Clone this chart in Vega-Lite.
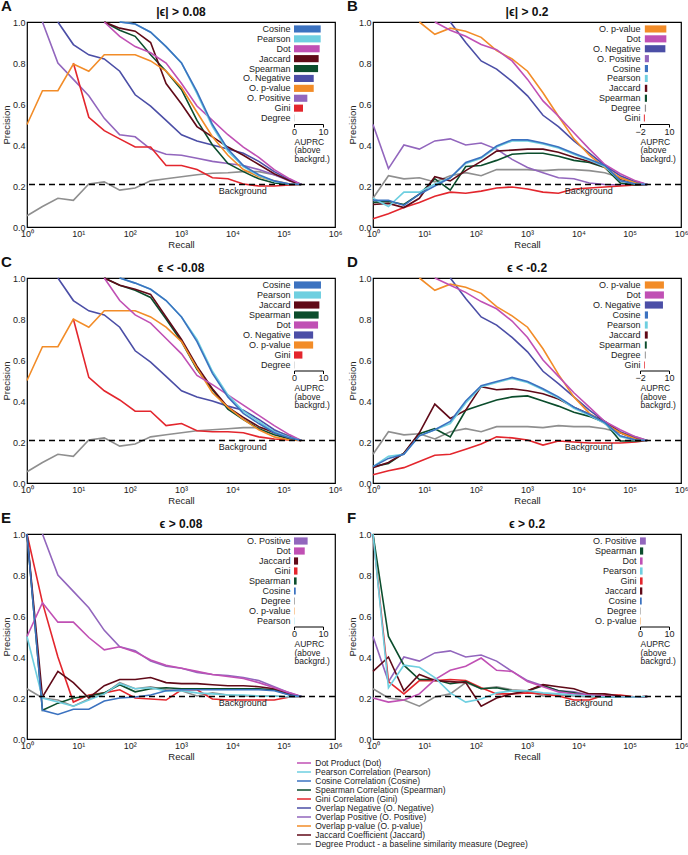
{
"$schema":"https://vega.github.io/schema/vega-lite/v6.json",
"padding":{"left":0,"top":-2,"right":0,"bottom":0},
"background":"white",
"config":{"font":"Liberation Sans","view":{"stroke":"black","strokeWidth":1.2},
"axis":{"labelFont":"Liberation Sans","titleFont":"Liberation Sans","labelFontSize":9,"titleFontSize":9.5,"titleFontWeight":"normal","labelColor":"#222","titleColor":"#222","tickColor":"black","domainColor":"black","grid":false},
"title":{"font":"Liberation Sans","color":"#111"}},
"datasets":{
"lines":[
{"p":"A","s":"Degree","r":1,"v":0.055},{"p":"A","s":"Degree","r":2,"v":0.1},{"p":"A","s":"Degree","r":4,"v":0.14},{"p":"A","s":"Degree","r":8,"v":0.13},{"p":"A","s":"Degree","r":16,"v":0.21},{"p":"A","s":"Degree","r":32,"v":0.22},{"p":"A","s":"Degree","r":64,"v":0.18},{"p":"A","s":"Degree","r":128,"v":0.19},{"p":"A","s":"Degree","r":256,"v":0.225},{"p":"A","s":"Degree","r":512,"v":0.235},{"p":"A","s":"Degree","r":1024,"v":0.245},{"p":"A","s":"Degree","r":2048,"v":0.255},{"p":"A","s":"Degree","r":4096,"v":0.262},{"p":"A","s":"Degree","r":8192,"v":0.265},{"p":"A","s":"Degree","r":16384,"v":0.27},{"p":"A","s":"Degree","r":32768,"v":0.27},{"p":"A","s":"Degree","r":65536,"v":0.255},{"p":"A","s":"Degree","r":131072,"v":0.23},{"p":"A","s":"Degree","r":220000,"v":0.207},
{"p":"A","s":"O. Positive","r":2,"v":1},{"p":"A","s":"O. Positive","r":4,"v":0.8},{"p":"A","s":"O. Positive","r":8,"v":0.72},{"p":"A","s":"O. Positive","r":16,"v":0.64},{"p":"A","s":"O. Positive","r":32,"v":0.53},{"p":"A","s":"O. Positive","r":64,"v":0.45},{"p":"A","s":"O. Positive","r":128,"v":0.44},{"p":"A","s":"O. Positive","r":256,"v":0.38},{"p":"A","s":"O. Positive","r":512,"v":0.355},{"p":"A","s":"O. Positive","r":1024,"v":0.35},{"p":"A","s":"O. Positive","r":2048,"v":0.335},{"p":"A","s":"O. Positive","r":4096,"v":0.32},{"p":"A","s":"O. Positive","r":8192,"v":0.31},{"p":"A","s":"O. Positive","r":16384,"v":0.3},{"p":"A","s":"O. Positive","r":32768,"v":0.28},{"p":"A","s":"O. Positive","r":65536,"v":0.255},{"p":"A","s":"O. Positive","r":131072,"v":0.225},{"p":"A","s":"O. Positive","r":220000,"v":0.207},
{"p":"A","s":"Gini","r":8,"v":0.8},{"p":"A","s":"Gini","r":16,"v":0.535},{"p":"A","s":"Gini","r":32,"v":0.47},{"p":"A","s":"Gini","r":64,"v":0.43},{"p":"A","s":"Gini","r":128,"v":0.39},{"p":"A","s":"Gini","r":256,"v":0.39},{"p":"A","s":"Gini","r":512,"v":0.3},{"p":"A","s":"Gini","r":1024,"v":0.3},{"p":"A","s":"Gini","r":2048,"v":0.28},{"p":"A","s":"Gini","r":4096,"v":0.24},{"p":"A","s":"Gini","r":8192,"v":0.235},{"p":"A","s":"Gini","r":16384,"v":0.21},{"p":"A","s":"Gini","r":32768,"v":0.2},{"p":"A","s":"Gini","r":65536,"v":0.2},{"p":"A","s":"Gini","r":131072,"v":0.205},{"p":"A","s":"Gini","r":220000,"v":0.207},
{"p":"A","s":"O. Negative","r":4,"v":1},{"p":"A","s":"O. Negative","r":8,"v":0.89},{"p":"A","s":"O. Negative","r":16,"v":0.84},{"p":"A","s":"O. Negative","r":32,"v":0.82},{"p":"A","s":"O. Negative","r":64,"v":0.76},{"p":"A","s":"O. Negative","r":128,"v":0.645},{"p":"A","s":"O. Negative","r":256,"v":0.59},{"p":"A","s":"O. Negative","r":512,"v":0.52},{"p":"A","s":"O. Negative","r":1024,"v":0.45},{"p":"A","s":"O. Negative","r":2048,"v":0.42},{"p":"A","s":"O. Negative","r":4096,"v":0.4},{"p":"A","s":"O. Negative","r":8192,"v":0.38},{"p":"A","s":"O. Negative","r":16384,"v":0.36},{"p":"A","s":"O. Negative","r":32768,"v":0.32},{"p":"A","s":"O. Negative","r":65536,"v":0.27},{"p":"A","s":"O. Negative","r":131072,"v":0.23},{"p":"A","s":"O. Negative","r":220000,"v":0.207},
{"p":"A","s":"Spearman","r":32,"v":1},{"p":"A","s":"Spearman","r":64,"v":0.96},{"p":"A","s":"Spearman","r":128,"v":0.93},{"p":"A","s":"Spearman","r":256,"v":0.84},{"p":"A","s":"Spearman","r":512,"v":0.76},{"p":"A","s":"Spearman","r":1024,"v":0.67},{"p":"A","s":"Spearman","r":2048,"v":0.52},{"p":"A","s":"Spearman","r":4096,"v":0.4},{"p":"A","s":"Spearman","r":8192,"v":0.31},{"p":"A","s":"Spearman","r":16384,"v":0.27},{"p":"A","s":"Spearman","r":32768,"v":0.235},{"p":"A","s":"Spearman","r":65536,"v":0.215},{"p":"A","s":"Spearman","r":131072,"v":0.207},{"p":"A","s":"Spearman","r":220000,"v":0.207},
{"p":"A","s":"Jaccard","r":32,"v":1},{"p":"A","s":"Jaccard","r":64,"v":0.97},{"p":"A","s":"Jaccard","r":128,"v":0.955},{"p":"A","s":"Jaccard","r":256,"v":0.9},{"p":"A","s":"Jaccard","r":512,"v":0.7},{"p":"A","s":"Jaccard","r":1024,"v":0.6},{"p":"A","s":"Jaccard","r":2048,"v":0.49},{"p":"A","s":"Jaccard","r":4096,"v":0.44},{"p":"A","s":"Jaccard","r":8192,"v":0.39},{"p":"A","s":"Jaccard","r":16384,"v":0.35},{"p":"A","s":"Jaccard","r":32768,"v":0.305},{"p":"A","s":"Jaccard","r":65536,"v":0.26},{"p":"A","s":"Jaccard","r":131072,"v":0.225},{"p":"A","s":"Jaccard","r":220000,"v":0.207},
{"p":"A","s":"O. p-value","r":1,"v":0.5},{"p":"A","s":"O. p-value","r":2,"v":0.665},{"p":"A","s":"O. p-value","r":4,"v":0.665},{"p":"A","s":"O. p-value","r":8,"v":0.795},{"p":"A","s":"O. p-value","r":16,"v":0.76},{"p":"A","s":"O. p-value","r":32,"v":0.84},{"p":"A","s":"O. p-value","r":64,"v":0.84},{"p":"A","s":"O. p-value","r":128,"v":0.84},{"p":"A","s":"O. p-value","r":256,"v":0.81},{"p":"A","s":"O. p-value","r":512,"v":0.76},{"p":"A","s":"O. p-value","r":1024,"v":0.68},{"p":"A","s":"O. p-value","r":2048,"v":0.56},{"p":"A","s":"O. p-value","r":4096,"v":0.44},{"p":"A","s":"O. p-value","r":8192,"v":0.35},{"p":"A","s":"O. p-value","r":16384,"v":0.28},{"p":"A","s":"O. p-value","r":32768,"v":0.245},{"p":"A","s":"O. p-value","r":65536,"v":0.225},{"p":"A","s":"O. p-value","r":131072,"v":0.21},{"p":"A","s":"O. p-value","r":220000,"v":0.207},
{"p":"A","s":"Dot","r":32,"v":1},{"p":"A","s":"Dot","r":64,"v":0.93},{"p":"A","s":"Dot","r":128,"v":0.88},{"p":"A","s":"Dot","r":256,"v":0.85},{"p":"A","s":"Dot","r":512,"v":0.8},{"p":"A","s":"Dot","r":1024,"v":0.7},{"p":"A","s":"Dot","r":2048,"v":0.59},{"p":"A","s":"Dot","r":4096,"v":0.52},{"p":"A","s":"Dot","r":8192,"v":0.45},{"p":"A","s":"Dot","r":16384,"v":0.39},{"p":"A","s":"Dot","r":32768,"v":0.34},{"p":"A","s":"Dot","r":65536,"v":0.28},{"p":"A","s":"Dot","r":131072,"v":0.235},{"p":"A","s":"Dot","r":220000,"v":0.207},
{"p":"A","s":"Pearson","r":64,"v":1},{"p":"A","s":"Pearson","r":128,"v":0.99},{"p":"A","s":"Pearson","r":256,"v":0.95},{"p":"A","s":"Pearson","r":512,"v":0.88},{"p":"A","s":"Pearson","r":1024,"v":0.8},{"p":"A","s":"Pearson","r":2048,"v":0.65},{"p":"A","s":"Pearson","r":4096,"v":0.49},{"p":"A","s":"Pearson","r":8192,"v":0.37},{"p":"A","s":"Pearson","r":16384,"v":0.295},{"p":"A","s":"Pearson","r":32768,"v":0.25},{"p":"A","s":"Pearson","r":65536,"v":0.222},{"p":"A","s":"Pearson","r":131072,"v":0.21},{"p":"A","s":"Pearson","r":220000,"v":0.207},
{"p":"A","s":"Cosine","r":64,"v":1},{"p":"A","s":"Cosine","r":128,"v":0.99},{"p":"A","s":"Cosine","r":256,"v":0.95},{"p":"A","s":"Cosine","r":512,"v":0.88},{"p":"A","s":"Cosine","r":1024,"v":0.8},{"p":"A","s":"Cosine","r":2048,"v":0.66},{"p":"A","s":"Cosine","r":4096,"v":0.5},{"p":"A","s":"Cosine","r":8192,"v":0.38},{"p":"A","s":"Cosine","r":16384,"v":0.3},{"p":"A","s":"Cosine","r":32768,"v":0.255},{"p":"A","s":"Cosine","r":65536,"v":0.225},{"p":"A","s":"Cosine","r":131072,"v":0.21},{"p":"A","s":"Cosine","r":220000,"v":0.207},

{"p":"B","s":"Degree","r":1,"v":0.14},{"p":"B","s":"Degree","r":2,"v":0.25},{"p":"B","s":"Degree","r":4,"v":0.235},{"p":"B","s":"Degree","r":8,"v":0.24},{"p":"B","s":"Degree","r":16,"v":0.22},{"p":"B","s":"Degree","r":32,"v":0.25},{"p":"B","s":"Degree","r":64,"v":0.265},{"p":"B","s":"Degree","r":128,"v":0.25},{"p":"B","s":"Degree","r":256,"v":0.28},{"p":"B","s":"Degree","r":512,"v":0.28},{"p":"B","s":"Degree","r":1024,"v":0.28},{"p":"B","s":"Degree","r":2048,"v":0.275},{"p":"B","s":"Degree","r":4096,"v":0.28},{"p":"B","s":"Degree","r":8192,"v":0.28},{"p":"B","s":"Degree","r":16384,"v":0.275},{"p":"B","s":"Degree","r":32768,"v":0.265},{"p":"B","s":"Degree","r":65536,"v":0.24},{"p":"B","s":"Degree","r":131072,"v":0.22},{"p":"B","s":"Degree","r":220000,"v":0.207},
{"p":"B","s":"O. Positive","r":1,"v":0.5},{"p":"B","s":"O. Positive","r":2,"v":0.285},{"p":"B","s":"O. Positive","r":4,"v":0.4},{"p":"B","s":"O. Positive","r":8,"v":0.38},{"p":"B","s":"O. Positive","r":16,"v":0.42},{"p":"B","s":"O. Positive","r":32,"v":0.43},{"p":"B","s":"O. Positive","r":64,"v":0.4},{"p":"B","s":"O. Positive","r":128,"v":0.41},{"p":"B","s":"O. Positive","r":256,"v":0.38},{"p":"B","s":"O. Positive","r":512,"v":0.33},{"p":"B","s":"O. Positive","r":1024,"v":0.29},{"p":"B","s":"O. Positive","r":2048,"v":0.265},{"p":"B","s":"O. Positive","r":4096,"v":0.24},{"p":"B","s":"O. Positive","r":8192,"v":0.235},{"p":"B","s":"O. Positive","r":16384,"v":0.215},{"p":"B","s":"O. Positive","r":32768,"v":0.207},{"p":"B","s":"O. Positive","r":65536,"v":0.205},{"p":"B","s":"O. Positive","r":131072,"v":0.205},{"p":"B","s":"O. Positive","r":220000,"v":0.207},
{"p":"B","s":"Gini","r":1,"v":0.04},{"p":"B","s":"Gini","r":2,"v":0.065},{"p":"B","s":"Gini","r":4,"v":0.095},{"p":"B","s":"Gini","r":8,"v":0.12},{"p":"B","s":"Gini","r":16,"v":0.15},{"p":"B","s":"Gini","r":32,"v":0.17},{"p":"B","s":"Gini","r":64,"v":0.165},{"p":"B","s":"Gini","r":128,"v":0.175},{"p":"B","s":"Gini","r":256,"v":0.19},{"p":"B","s":"Gini","r":512,"v":0.195},{"p":"B","s":"Gini","r":1024,"v":0.185},{"p":"B","s":"Gini","r":2048,"v":0.17},{"p":"B","s":"Gini","r":4096,"v":0.165},{"p":"B","s":"Gini","r":8192,"v":0.185},{"p":"B","s":"Gini","r":16384,"v":0.19},{"p":"B","s":"Gini","r":32768,"v":0.195},{"p":"B","s":"Gini","r":65536,"v":0.2},{"p":"B","s":"Gini","r":131072,"v":0.205},{"p":"B","s":"Gini","r":220000,"v":0.207},
{"p":"B","s":"O. Negative","r":32,"v":1},{"p":"B","s":"O. Negative","r":64,"v":0.9},{"p":"B","s":"O. Negative","r":128,"v":0.81},{"p":"B","s":"O. Negative","r":256,"v":0.77},{"p":"B","s":"O. Negative","r":512,"v":0.71},{"p":"B","s":"O. Negative","r":1024,"v":0.64},{"p":"B","s":"O. Negative","r":2048,"v":0.545},{"p":"B","s":"O. Negative","r":4096,"v":0.49},{"p":"B","s":"O. Negative","r":8192,"v":0.42},{"p":"B","s":"O. Negative","r":16384,"v":0.36},{"p":"B","s":"O. Negative","r":32768,"v":0.3},{"p":"B","s":"O. Negative","r":65536,"v":0.25},{"p":"B","s":"O. Negative","r":131072,"v":0.22},{"p":"B","s":"O. Negative","r":220000,"v":0.207},
{"p":"B","s":"Spearman","r":1,"v":0.12},{"p":"B","s":"Spearman","r":2,"v":0.125},{"p":"B","s":"Spearman","r":4,"v":0.11},{"p":"B","s":"Spearman","r":8,"v":0.16},{"p":"B","s":"Spearman","r":16,"v":0.235},{"p":"B","s":"Spearman","r":32,"v":0.18},{"p":"B","s":"Spearman","r":64,"v":0.295},{"p":"B","s":"Spearman","r":128,"v":0.3},{"p":"B","s":"Spearman","r":256,"v":0.325},{"p":"B","s":"Spearman","r":512,"v":0.355},{"p":"B","s":"Spearman","r":1024,"v":0.36},{"p":"B","s":"Spearman","r":2048,"v":0.36},{"p":"B","s":"Spearman","r":4096,"v":0.345},{"p":"B","s":"Spearman","r":8192,"v":0.325},{"p":"B","s":"Spearman","r":16384,"v":0.315},{"p":"B","s":"Spearman","r":32768,"v":0.29},{"p":"B","s":"Spearman","r":65536,"v":0.215},{"p":"B","s":"Spearman","r":131072,"v":0.205},{"p":"B","s":"Spearman","r":220000,"v":0.207},
{"p":"B","s":"Jaccard","r":1,"v":0.11},{"p":"B","s":"Jaccard","r":2,"v":0.115},{"p":"B","s":"Jaccard","r":4,"v":0.095},{"p":"B","s":"Jaccard","r":8,"v":0.14},{"p":"B","s":"Jaccard","r":16,"v":0.245},{"p":"B","s":"Jaccard","r":32,"v":0.225},{"p":"B","s":"Jaccard","r":64,"v":0.275},{"p":"B","s":"Jaccard","r":128,"v":0.32},{"p":"B","s":"Jaccard","r":256,"v":0.37},{"p":"B","s":"Jaccard","r":512,"v":0.375},{"p":"B","s":"Jaccard","r":1024,"v":0.38},{"p":"B","s":"Jaccard","r":2048,"v":0.38},{"p":"B","s":"Jaccard","r":4096,"v":0.365},{"p":"B","s":"Jaccard","r":8192,"v":0.34},{"p":"B","s":"Jaccard","r":16384,"v":0.32},{"p":"B","s":"Jaccard","r":32768,"v":0.295},{"p":"B","s":"Jaccard","r":65536,"v":0.23},{"p":"B","s":"Jaccard","r":131072,"v":0.21},{"p":"B","s":"Jaccard","r":220000,"v":0.207},
{"p":"B","s":"O. p-value","r":8,"v":1},{"p":"B","s":"O. p-value","r":16,"v":0.94},{"p":"B","s":"O. p-value","r":32,"v":0.97},{"p":"B","s":"O. p-value","r":64,"v":0.955},{"p":"B","s":"O. p-value","r":128,"v":0.925},{"p":"B","s":"O. p-value","r":256,"v":0.86},{"p":"B","s":"O. p-value","r":512,"v":0.82},{"p":"B","s":"O. p-value","r":1024,"v":0.76},{"p":"B","s":"O. p-value","r":2048,"v":0.655},{"p":"B","s":"O. p-value","r":4096,"v":0.54},{"p":"B","s":"O. p-value","r":8192,"v":0.43},{"p":"B","s":"O. p-value","r":16384,"v":0.35},{"p":"B","s":"O. p-value","r":32768,"v":0.29},{"p":"B","s":"O. p-value","r":65536,"v":0.24},{"p":"B","s":"O. p-value","r":131072,"v":0.215},{"p":"B","s":"O. p-value","r":220000,"v":0.207},
{"p":"B","s":"Dot","r":16,"v":1},{"p":"B","s":"Dot","r":32,"v":0.96},{"p":"B","s":"Dot","r":64,"v":0.93},{"p":"B","s":"Dot","r":128,"v":0.89},{"p":"B","s":"Dot","r":256,"v":0.865},{"p":"B","s":"Dot","r":512,"v":0.81},{"p":"B","s":"Dot","r":1024,"v":0.72},{"p":"B","s":"Dot","r":2048,"v":0.615},{"p":"B","s":"Dot","r":4096,"v":0.54},{"p":"B","s":"Dot","r":8192,"v":0.46},{"p":"B","s":"Dot","r":16384,"v":0.38},{"p":"B","s":"Dot","r":32768,"v":0.305},{"p":"B","s":"Dot","r":65536,"v":0.26},{"p":"B","s":"Dot","r":131072,"v":0.225},{"p":"B","s":"Dot","r":220000,"v":0.207},
{"p":"B","s":"Pearson","r":1,"v":0.14},{"p":"B","s":"Pearson","r":2,"v":0.1},{"p":"B","s":"Pearson","r":4,"v":0.17},{"p":"B","s":"Pearson","r":8,"v":0.17},{"p":"B","s":"Pearson","r":16,"v":0.21},{"p":"B","s":"Pearson","r":32,"v":0.24},{"p":"B","s":"Pearson","r":64,"v":0.31},{"p":"B","s":"Pearson","r":128,"v":0.335},{"p":"B","s":"Pearson","r":256,"v":0.39},{"p":"B","s":"Pearson","r":512,"v":0.42},{"p":"B","s":"Pearson","r":1024,"v":0.42},{"p":"B","s":"Pearson","r":2048,"v":0.405},{"p":"B","s":"Pearson","r":4096,"v":0.385},{"p":"B","s":"Pearson","r":8192,"v":0.355},{"p":"B","s":"Pearson","r":16384,"v":0.325},{"p":"B","s":"Pearson","r":32768,"v":0.295},{"p":"B","s":"Pearson","r":65536,"v":0.225},{"p":"B","s":"Pearson","r":131072,"v":0.21},{"p":"B","s":"Pearson","r":220000,"v":0.207},
{"p":"B","s":"Cosine","r":1,"v":0.13},{"p":"B","s":"Cosine","r":2,"v":0.13},{"p":"B","s":"Cosine","r":4,"v":0.105},{"p":"B","s":"Cosine","r":8,"v":0.16},{"p":"B","s":"Cosine","r":16,"v":0.2},{"p":"B","s":"Cosine","r":32,"v":0.24},{"p":"B","s":"Cosine","r":64,"v":0.315},{"p":"B","s":"Cosine","r":128,"v":0.34},{"p":"B","s":"Cosine","r":256,"v":0.395},{"p":"B","s":"Cosine","r":512,"v":0.425},{"p":"B","s":"Cosine","r":1024,"v":0.425},{"p":"B","s":"Cosine","r":2048,"v":0.41},{"p":"B","s":"Cosine","r":4096,"v":0.39},{"p":"B","s":"Cosine","r":8192,"v":0.36},{"p":"B","s":"Cosine","r":16384,"v":0.33},{"p":"B","s":"Cosine","r":32768,"v":0.3},{"p":"B","s":"Cosine","r":65536,"v":0.225},{"p":"B","s":"Cosine","r":131072,"v":0.21},{"p":"B","s":"Cosine","r":220000,"v":0.207},

{"p":"C","s":"Degree","r":1,"v":0.055},{"p":"C","s":"Degree","r":2,"v":0.1},{"p":"C","s":"Degree","r":4,"v":0.14},{"p":"C","s":"Degree","r":8,"v":0.13},{"p":"C","s":"Degree","r":16,"v":0.21},{"p":"C","s":"Degree","r":32,"v":0.22},{"p":"C","s":"Degree","r":64,"v":0.18},{"p":"C","s":"Degree","r":128,"v":0.19},{"p":"C","s":"Degree","r":256,"v":0.225},{"p":"C","s":"Degree","r":512,"v":0.235},{"p":"C","s":"Degree","r":1024,"v":0.245},{"p":"C","s":"Degree","r":2048,"v":0.255},{"p":"C","s":"Degree","r":4096,"v":0.26},{"p":"C","s":"Degree","r":8192,"v":0.265},{"p":"C","s":"Degree","r":16384,"v":0.27},{"p":"C","s":"Degree","r":32768,"v":0.27},{"p":"C","s":"Degree","r":65536,"v":0.255},{"p":"C","s":"Degree","r":131072,"v":0.23},{"p":"C","s":"Degree","r":220000,"v":0.207},
{"p":"C","s":"Gini","r":8,"v":0.8},{"p":"C","s":"Gini","r":16,"v":0.515},{"p":"C","s":"Gini","r":32,"v":0.45},{"p":"C","s":"Gini","r":64,"v":0.405},{"p":"C","s":"Gini","r":128,"v":0.35},{"p":"C","s":"Gini","r":256,"v":0.35},{"p":"C","s":"Gini","r":512,"v":0.28},{"p":"C","s":"Gini","r":1024,"v":0.29},{"p":"C","s":"Gini","r":2048,"v":0.255},{"p":"C","s":"Gini","r":4096,"v":0.25},{"p":"C","s":"Gini","r":8192,"v":0.25},{"p":"C","s":"Gini","r":16384,"v":0.245},{"p":"C","s":"Gini","r":32768,"v":0.225},{"p":"C","s":"Gini","r":65536,"v":0.215},{"p":"C","s":"Gini","r":131072,"v":0.21},{"p":"C","s":"Gini","r":220000,"v":0.207},
{"p":"C","s":"O. Negative","r":4,"v":1},{"p":"C","s":"O. Negative","r":8,"v":0.89},{"p":"C","s":"O. Negative","r":16,"v":0.84},{"p":"C","s":"O. Negative","r":32,"v":0.82},{"p":"C","s":"O. Negative","r":64,"v":0.76},{"p":"C","s":"O. Negative","r":128,"v":0.645},{"p":"C","s":"O. Negative","r":256,"v":0.59},{"p":"C","s":"O. Negative","r":512,"v":0.52},{"p":"C","s":"O. Negative","r":1024,"v":0.45},{"p":"C","s":"O. Negative","r":2048,"v":0.42},{"p":"C","s":"O. Negative","r":4096,"v":0.4},{"p":"C","s":"O. Negative","r":8192,"v":0.375},{"p":"C","s":"O. Negative","r":16384,"v":0.355},{"p":"C","s":"O. Negative","r":32768,"v":0.31},{"p":"C","s":"O. Negative","r":65536,"v":0.26},{"p":"C","s":"O. Negative","r":131072,"v":0.225},{"p":"C","s":"O. Negative","r":220000,"v":0.207},
{"p":"C","s":"Spearman","r":32,"v":1},{"p":"C","s":"Spearman","r":64,"v":0.965},{"p":"C","s":"Spearman","r":128,"v":0.94},{"p":"C","s":"Spearman","r":256,"v":0.905},{"p":"C","s":"Spearman","r":512,"v":0.8},{"p":"C","s":"Spearman","r":1024,"v":0.69},{"p":"C","s":"Spearman","r":2048,"v":0.555},{"p":"C","s":"Spearman","r":4096,"v":0.455},{"p":"C","s":"Spearman","r":8192,"v":0.36},{"p":"C","s":"Spearman","r":16384,"v":0.31},{"p":"C","s":"Spearman","r":32768,"v":0.265},{"p":"C","s":"Spearman","r":65536,"v":0.235},{"p":"C","s":"Spearman","r":131072,"v":0.215},{"p":"C","s":"Spearman","r":220000,"v":0.207},
{"p":"C","s":"Jaccard","r":32,"v":1},{"p":"C","s":"Jaccard","r":64,"v":0.965},{"p":"C","s":"Jaccard","r":128,"v":0.945},{"p":"C","s":"Jaccard","r":256,"v":0.92},{"p":"C","s":"Jaccard","r":512,"v":0.81},{"p":"C","s":"Jaccard","r":1024,"v":0.7},{"p":"C","s":"Jaccard","r":2048,"v":0.57},{"p":"C","s":"Jaccard","r":4096,"v":0.46},{"p":"C","s":"Jaccard","r":8192,"v":0.37},{"p":"C","s":"Jaccard","r":16384,"v":0.32},{"p":"C","s":"Jaccard","r":32768,"v":0.275},{"p":"C","s":"Jaccard","r":65536,"v":0.245},{"p":"C","s":"Jaccard","r":131072,"v":0.22},{"p":"C","s":"Jaccard","r":220000,"v":0.207},
{"p":"C","s":"O. p-value","r":1,"v":0.5},{"p":"C","s":"O. p-value","r":2,"v":0.665},{"p":"C","s":"O. p-value","r":4,"v":0.665},{"p":"C","s":"O. p-value","r":8,"v":0.8},{"p":"C","s":"O. p-value","r":16,"v":0.76},{"p":"C","s":"O. p-value","r":32,"v":0.84},{"p":"C","s":"O. p-value","r":64,"v":0.84},{"p":"C","s":"O. p-value","r":128,"v":0.84},{"p":"C","s":"O. p-value","r":256,"v":0.81},{"p":"C","s":"O. p-value","r":512,"v":0.76},{"p":"C","s":"O. p-value","r":1024,"v":0.69},{"p":"C","s":"O. p-value","r":2048,"v":0.56},{"p":"C","s":"O. p-value","r":4096,"v":0.44},{"p":"C","s":"O. p-value","r":8192,"v":0.37},{"p":"C","s":"O. p-value","r":16384,"v":0.31},{"p":"C","s":"O. p-value","r":32768,"v":0.26},{"p":"C","s":"O. p-value","r":65536,"v":0.225},{"p":"C","s":"O. p-value","r":131072,"v":0.21},{"p":"C","s":"O. p-value","r":220000,"v":0.207},
{"p":"C","s":"Dot","r":32,"v":1},{"p":"C","s":"Dot","r":64,"v":0.89},{"p":"C","s":"Dot","r":128,"v":0.82},{"p":"C","s":"Dot","r":256,"v":0.78},{"p":"C","s":"Dot","r":512,"v":0.705},{"p":"C","s":"Dot","r":1024,"v":0.63},{"p":"C","s":"Dot","r":2048,"v":0.525},{"p":"C","s":"Dot","r":4096,"v":0.48},{"p":"C","s":"Dot","r":8192,"v":0.43},{"p":"C","s":"Dot","r":16384,"v":0.38},{"p":"C","s":"Dot","r":32768,"v":0.33},{"p":"C","s":"Dot","r":65536,"v":0.28},{"p":"C","s":"Dot","r":131072,"v":0.235},{"p":"C","s":"Dot","r":220000,"v":0.207},
{"p":"C","s":"Pearson","r":64,"v":1},{"p":"C","s":"Pearson","r":128,"v":0.975},{"p":"C","s":"Pearson","r":256,"v":0.945},{"p":"C","s":"Pearson","r":512,"v":0.89},{"p":"C","s":"Pearson","r":1024,"v":0.81},{"p":"C","s":"Pearson","r":2048,"v":0.7},{"p":"C","s":"Pearson","r":4096,"v":0.545},{"p":"C","s":"Pearson","r":8192,"v":0.43},{"p":"C","s":"Pearson","r":16384,"v":0.35},{"p":"C","s":"Pearson","r":32768,"v":0.3},{"p":"C","s":"Pearson","r":65536,"v":0.25},{"p":"C","s":"Pearson","r":131072,"v":0.222},{"p":"C","s":"Pearson","r":220000,"v":0.207},
{"p":"C","s":"Cosine","r":64,"v":1},{"p":"C","s":"Cosine","r":128,"v":0.975},{"p":"C","s":"Cosine","r":256,"v":0.945},{"p":"C","s":"Cosine","r":512,"v":0.89},{"p":"C","s":"Cosine","r":1024,"v":0.81},{"p":"C","s":"Cosine","r":2048,"v":0.69},{"p":"C","s":"Cosine","r":4096,"v":0.535},{"p":"C","s":"Cosine","r":8192,"v":0.42},{"p":"C","s":"Cosine","r":16384,"v":0.34},{"p":"C","s":"Cosine","r":32768,"v":0.29},{"p":"C","s":"Cosine","r":65536,"v":0.245},{"p":"C","s":"Cosine","r":131072,"v":0.22},{"p":"C","s":"Cosine","r":220000,"v":0.207},

{"p":"D","s":"Degree","r":1,"v":0.14},{"p":"D","s":"Degree","r":2,"v":0.25},{"p":"D","s":"Degree","r":4,"v":0.235},{"p":"D","s":"Degree","r":8,"v":0.24},{"p":"D","s":"Degree","r":16,"v":0.215},{"p":"D","s":"Degree","r":32,"v":0.25},{"p":"D","s":"Degree","r":64,"v":0.265},{"p":"D","s":"Degree","r":128,"v":0.25},{"p":"D","s":"Degree","r":256,"v":0.275},{"p":"D","s":"Degree","r":512,"v":0.275},{"p":"D","s":"Degree","r":1024,"v":0.275},{"p":"D","s":"Degree","r":2048,"v":0.27},{"p":"D","s":"Degree","r":4096,"v":0.28},{"p":"D","s":"Degree","r":8192,"v":0.275},{"p":"D","s":"Degree","r":16384,"v":0.275},{"p":"D","s":"Degree","r":32768,"v":0.265},{"p":"D","s":"Degree","r":65536,"v":0.245},{"p":"D","s":"Degree","r":131072,"v":0.225},{"p":"D","s":"Degree","r":220000,"v":0.207},
{"p":"D","s":"Gini","r":1,"v":0.04},{"p":"D","s":"Gini","r":2,"v":0.06},{"p":"D","s":"Gini","r":4,"v":0.075},{"p":"D","s":"Gini","r":8,"v":0.105},{"p":"D","s":"Gini","r":16,"v":0.135},{"p":"D","s":"Gini","r":32,"v":0.14},{"p":"D","s":"Gini","r":64,"v":0.165},{"p":"D","s":"Gini","r":128,"v":0.19},{"p":"D","s":"Gini","r":256,"v":0.225},{"p":"D","s":"Gini","r":512,"v":0.22},{"p":"D","s":"Gini","r":1024,"v":0.21},{"p":"D","s":"Gini","r":2048,"v":0.185},{"p":"D","s":"Gini","r":4096,"v":0.205},{"p":"D","s":"Gini","r":8192,"v":0.2},{"p":"D","s":"Gini","r":16384,"v":0.195},{"p":"D","s":"Gini","r":32768,"v":0.195},{"p":"D","s":"Gini","r":65536,"v":0.195},{"p":"D","s":"Gini","r":131072,"v":0.2},{"p":"D","s":"Gini","r":220000,"v":0.207},
{"p":"D","s":"O. Negative","r":32,"v":1},{"p":"D","s":"O. Negative","r":64,"v":0.9},{"p":"D","s":"O. Negative","r":128,"v":0.81},{"p":"D","s":"O. Negative","r":256,"v":0.77},{"p":"D","s":"O. Negative","r":512,"v":0.71},{"p":"D","s":"O. Negative","r":1024,"v":0.64},{"p":"D","s":"O. Negative","r":2048,"v":0.545},{"p":"D","s":"O. Negative","r":4096,"v":0.485},{"p":"D","s":"O. Negative","r":8192,"v":0.42},{"p":"D","s":"O. Negative","r":16384,"v":0.355},{"p":"D","s":"O. Negative","r":32768,"v":0.3},{"p":"D","s":"O. Negative","r":65536,"v":0.25},{"p":"D","s":"O. Negative","r":131072,"v":0.22},{"p":"D","s":"O. Negative","r":220000,"v":0.207},
{"p":"D","s":"Spearman","r":1,"v":0.08},{"p":"D","s":"Spearman","r":2,"v":0.095},{"p":"D","s":"Spearman","r":4,"v":0.145},{"p":"D","s":"Spearman","r":8,"v":0.24},{"p":"D","s":"Spearman","r":16,"v":0.265},{"p":"D","s":"Spearman","r":32,"v":0.225},{"p":"D","s":"Spearman","r":64,"v":0.355},{"p":"D","s":"Spearman","r":128,"v":0.38},{"p":"D","s":"Spearman","r":256,"v":0.405},{"p":"D","s":"Spearman","r":512,"v":0.42},{"p":"D","s":"Spearman","r":1024,"v":0.425},{"p":"D","s":"Spearman","r":2048,"v":0.4},{"p":"D","s":"Spearman","r":4096,"v":0.375},{"p":"D","s":"Spearman","r":8192,"v":0.345},{"p":"D","s":"Spearman","r":16384,"v":0.325},{"p":"D","s":"Spearman","r":32768,"v":0.295},{"p":"D","s":"Spearman","r":65536,"v":0.205},{"p":"D","s":"Spearman","r":131072,"v":0.205},{"p":"D","s":"Spearman","r":220000,"v":0.207},
{"p":"D","s":"Jaccard","r":1,"v":0.075},{"p":"D","s":"Jaccard","r":2,"v":0.1},{"p":"D","s":"Jaccard","r":4,"v":0.145},{"p":"D","s":"Jaccard","r":8,"v":0.245},{"p":"D","s":"Jaccard","r":16,"v":0.385},{"p":"D","s":"Jaccard","r":32,"v":0.315},{"p":"D","s":"Jaccard","r":64,"v":0.355},{"p":"D","s":"Jaccard","r":128,"v":0.47},{"p":"D","s":"Jaccard","r":256,"v":0.455},{"p":"D","s":"Jaccard","r":512,"v":0.46},{"p":"D","s":"Jaccard","r":1024,"v":0.45},{"p":"D","s":"Jaccard","r":2048,"v":0.435},{"p":"D","s":"Jaccard","r":4096,"v":0.41},{"p":"D","s":"Jaccard","r":8192,"v":0.37},{"p":"D","s":"Jaccard","r":16384,"v":0.335},{"p":"D","s":"Jaccard","r":32768,"v":0.3},{"p":"D","s":"Jaccard","r":65536,"v":0.245},{"p":"D","s":"Jaccard","r":131072,"v":0.215},{"p":"D","s":"Jaccard","r":220000,"v":0.207},
{"p":"D","s":"O. p-value","r":8,"v":1},{"p":"D","s":"O. p-value","r":16,"v":0.94},{"p":"D","s":"O. p-value","r":32,"v":0.97},{"p":"D","s":"O. p-value","r":64,"v":0.955},{"p":"D","s":"O. p-value","r":128,"v":0.925},{"p":"D","s":"O. p-value","r":256,"v":0.86},{"p":"D","s":"O. p-value","r":512,"v":0.815},{"p":"D","s":"O. p-value","r":1024,"v":0.76},{"p":"D","s":"O. p-value","r":2048,"v":0.655},{"p":"D","s":"O. p-value","r":4096,"v":0.53},{"p":"D","s":"O. p-value","r":8192,"v":0.42},{"p":"D","s":"O. p-value","r":16384,"v":0.34},{"p":"D","s":"O. p-value","r":32768,"v":0.29},{"p":"D","s":"O. p-value","r":65536,"v":0.245},{"p":"D","s":"O. p-value","r":131072,"v":0.215},{"p":"D","s":"O. p-value","r":220000,"v":0.207},
{"p":"D","s":"Dot","r":16,"v":1},{"p":"D","s":"Dot","r":32,"v":0.965},{"p":"D","s":"Dot","r":64,"v":0.93},{"p":"D","s":"Dot","r":128,"v":0.885},{"p":"D","s":"Dot","r":256,"v":0.85},{"p":"D","s":"Dot","r":512,"v":0.79},{"p":"D","s":"Dot","r":1024,"v":0.71},{"p":"D","s":"Dot","r":2048,"v":0.6},{"p":"D","s":"Dot","r":4096,"v":0.52},{"p":"D","s":"Dot","r":8192,"v":0.44},{"p":"D","s":"Dot","r":16384,"v":0.37},{"p":"D","s":"Dot","r":32768,"v":0.3},{"p":"D","s":"Dot","r":65536,"v":0.26},{"p":"D","s":"Dot","r":131072,"v":0.225},{"p":"D","s":"Dot","r":220000,"v":0.207},
{"p":"D","s":"Pearson","r":1,"v":0.08},{"p":"D","s":"Pearson","r":2,"v":0.13},{"p":"D","s":"Pearson","r":4,"v":0.14},{"p":"D","s":"Pearson","r":8,"v":0.23},{"p":"D","s":"Pearson","r":16,"v":0.26},{"p":"D","s":"Pearson","r":32,"v":0.29},{"p":"D","s":"Pearson","r":64,"v":0.39},{"p":"D","s":"Pearson","r":128,"v":0.47},{"p":"D","s":"Pearson","r":256,"v":0.49},{"p":"D","s":"Pearson","r":512,"v":0.51},{"p":"D","s":"Pearson","r":1024,"v":0.49},{"p":"D","s":"Pearson","r":2048,"v":0.455},{"p":"D","s":"Pearson","r":4096,"v":0.415},{"p":"D","s":"Pearson","r":8192,"v":0.365},{"p":"D","s":"Pearson","r":16384,"v":0.33},{"p":"D","s":"Pearson","r":32768,"v":0.29},{"p":"D","s":"Pearson","r":65536,"v":0.225},{"p":"D","s":"Pearson","r":131072,"v":0.21},{"p":"D","s":"Pearson","r":220000,"v":0.207},
{"p":"D","s":"Cosine","r":1,"v":0.08},{"p":"D","s":"Cosine","r":2,"v":0.12},{"p":"D","s":"Cosine","r":4,"v":0.14},{"p":"D","s":"Cosine","r":8,"v":0.23},{"p":"D","s":"Cosine","r":16,"v":0.26},{"p":"D","s":"Cosine","r":32,"v":0.3},{"p":"D","s":"Cosine","r":64,"v":0.4},{"p":"D","s":"Cosine","r":128,"v":0.475},{"p":"D","s":"Cosine","r":256,"v":0.495},{"p":"D","s":"Cosine","r":512,"v":0.515},{"p":"D","s":"Cosine","r":1024,"v":0.495},{"p":"D","s":"Cosine","r":2048,"v":0.46},{"p":"D","s":"Cosine","r":4096,"v":0.42},{"p":"D","s":"Cosine","r":8192,"v":0.37},{"p":"D","s":"Cosine","r":16384,"v":0.335},{"p":"D","s":"Cosine","r":32768,"v":0.295},{"p":"D","s":"Cosine","r":65536,"v":0.23},{"p":"D","s":"Cosine","r":131072,"v":0.21},{"p":"D","s":"Cosine","r":220000,"v":0.207},

{"p":"E","s":"Degree","r":1,"v":0.245},{"p":"E","s":"Degree","r":2,"v":0.2},{"p":"E","s":"Degree","r":4,"v":0.19},{"p":"E","s":"Degree","r":8,"v":0.16},{"p":"E","s":"Degree","r":16,"v":0.195},{"p":"E","s":"Degree","r":32,"v":0.22},{"p":"E","s":"Degree","r":64,"v":0.275},{"p":"E","s":"Degree","r":128,"v":0.245},{"p":"E","s":"Degree","r":256,"v":0.255},{"p":"E","s":"Degree","r":512,"v":0.24},{"p":"E","s":"Degree","r":1024,"v":0.235},{"p":"E","s":"Degree","r":2048,"v":0.21},{"p":"E","s":"Degree","r":4096,"v":0.225},{"p":"E","s":"Degree","r":8192,"v":0.215},{"p":"E","s":"Degree","r":16384,"v":0.21},{"p":"E","s":"Degree","r":32768,"v":0.21},{"p":"E","s":"Degree","r":65536,"v":0.21},{"p":"E","s":"Degree","r":131072,"v":0.205},{"p":"E","s":"Degree","r":220000,"v":0.207},
{"p":"E","s":"O. Positive","r":2,"v":1},{"p":"E","s":"O. Positive","r":4,"v":0.8},{"p":"E","s":"O. Positive","r":8,"v":0.72},{"p":"E","s":"O. Positive","r":16,"v":0.64},{"p":"E","s":"O. Positive","r":32,"v":0.53},{"p":"E","s":"O. Positive","r":64,"v":0.45},{"p":"E","s":"O. Positive","r":128,"v":0.43},{"p":"E","s":"O. Positive","r":256,"v":0.38},{"p":"E","s":"O. Positive","r":512,"v":0.355},{"p":"E","s":"O. Positive","r":1024,"v":0.345},{"p":"E","s":"O. Positive","r":2048,"v":0.325},{"p":"E","s":"O. Positive","r":4096,"v":0.315},{"p":"E","s":"O. Positive","r":8192,"v":0.31},{"p":"E","s":"O. Positive","r":16384,"v":0.3},{"p":"E","s":"O. Positive","r":32768,"v":0.285},{"p":"E","s":"O. Positive","r":65536,"v":0.255},{"p":"E","s":"O. Positive","r":131072,"v":0.225},{"p":"E","s":"O. Positive","r":220000,"v":0.207},
{"p":"E","s":"Gini","r":1,"v":1},{"p":"E","s":"Gini","r":2,"v":0.665},{"p":"E","s":"Gini","r":4,"v":0.4},{"p":"E","s":"Gini","r":8,"v":0.18},{"p":"E","s":"Gini","r":16,"v":0.215},{"p":"E","s":"Gini","r":32,"v":0.225},{"p":"E","s":"Gini","r":64,"v":0.24},{"p":"E","s":"Gini","r":128,"v":0.2},{"p":"E","s":"Gini","r":256,"v":0.195},{"p":"E","s":"Gini","r":512,"v":0.19},{"p":"E","s":"Gini","r":1024,"v":0.24},{"p":"E","s":"Gini","r":2048,"v":0.24},{"p":"E","s":"Gini","r":4096,"v":0.195},{"p":"E","s":"Gini","r":8192,"v":0.19},{"p":"E","s":"Gini","r":16384,"v":0.19},{"p":"E","s":"Gini","r":32768,"v":0.19},{"p":"E","s":"Gini","r":65536,"v":0.19},{"p":"E","s":"Gini","r":131072,"v":0.205},{"p":"E","s":"Gini","r":220000,"v":0.207},
{"p":"E","s":"Spearman","r":1,"v":1},{"p":"E","s":"Spearman","r":2,"v":0.14},{"p":"E","s":"Spearman","r":4,"v":0.175},{"p":"E","s":"Spearman","r":8,"v":0.2},{"p":"E","s":"Spearman","r":16,"v":0.21},{"p":"E","s":"Spearman","r":32,"v":0.225},{"p":"E","s":"Spearman","r":64,"v":0.265},{"p":"E","s":"Spearman","r":128,"v":0.23},{"p":"E","s":"Spearman","r":256,"v":0.245},{"p":"E","s":"Spearman","r":512,"v":0.25},{"p":"E","s":"Spearman","r":1024,"v":0.245},{"p":"E","s":"Spearman","r":2048,"v":0.245},{"p":"E","s":"Spearman","r":4096,"v":0.245},{"p":"E","s":"Spearman","r":8192,"v":0.245},{"p":"E","s":"Spearman","r":16384,"v":0.245},{"p":"E","s":"Spearman","r":32768,"v":0.245},{"p":"E","s":"Spearman","r":65536,"v":0.24},{"p":"E","s":"Spearman","r":131072,"v":0.215},{"p":"E","s":"Spearman","r":220000,"v":0.207},
{"p":"E","s":"Jaccard","r":1,"v":1},{"p":"E","s":"Jaccard","r":2,"v":0.205},{"p":"E","s":"Jaccard","r":4,"v":0.33},{"p":"E","s":"Jaccard","r":8,"v":0.275},{"p":"E","s":"Jaccard","r":16,"v":0.2},{"p":"E","s":"Jaccard","r":32,"v":0.26},{"p":"E","s":"Jaccard","r":64,"v":0.29},{"p":"E","s":"Jaccard","r":128,"v":0.29},{"p":"E","s":"Jaccard","r":256,"v":0.3},{"p":"E","s":"Jaccard","r":512,"v":0.275},{"p":"E","s":"Jaccard","r":1024,"v":0.27},{"p":"E","s":"Jaccard","r":2048,"v":0.27},{"p":"E","s":"Jaccard","r":4096,"v":0.265},{"p":"E","s":"Jaccard","r":8192,"v":0.26},{"p":"E","s":"Jaccard","r":16384,"v":0.26},{"p":"E","s":"Jaccard","r":32768,"v":0.255},{"p":"E","s":"Jaccard","r":65536,"v":0.245},{"p":"E","s":"Jaccard","r":131072,"v":0.22},{"p":"E","s":"Jaccard","r":220000,"v":0.207},
{"p":"E","s":"Dot","r":1,"v":0.5},{"p":"E","s":"Dot","r":2,"v":0.665},{"p":"E","s":"Dot","r":4,"v":0.57},{"p":"E","s":"Dot","r":8,"v":0.57},{"p":"E","s":"Dot","r":16,"v":0.495},{"p":"E","s":"Dot","r":32,"v":0.435},{"p":"E","s":"Dot","r":64,"v":0.45},{"p":"E","s":"Dot","r":128,"v":0.425},{"p":"E","s":"Dot","r":256,"v":0.385},{"p":"E","s":"Dot","r":512,"v":0.36},{"p":"E","s":"Dot","r":1024,"v":0.345},{"p":"E","s":"Dot","r":2048,"v":0.33},{"p":"E","s":"Dot","r":4096,"v":0.315},{"p":"E","s":"Dot","r":8192,"v":0.305},{"p":"E","s":"Dot","r":16384,"v":0.295},{"p":"E","s":"Dot","r":32768,"v":0.275},{"p":"E","s":"Dot","r":65536,"v":0.25},{"p":"E","s":"Dot","r":131072,"v":0.225},{"p":"E","s":"Dot","r":220000,"v":0.207},
{"p":"E","s":"Pearson","r":1,"v":0.5},{"p":"E","s":"Pearson","r":2,"v":0.2},{"p":"E","s":"Pearson","r":4,"v":0.18},{"p":"E","s":"Pearson","r":8,"v":0.16},{"p":"E","s":"Pearson","r":16,"v":0.19},{"p":"E","s":"Pearson","r":32,"v":0.22},{"p":"E","s":"Pearson","r":64,"v":0.27},{"p":"E","s":"Pearson","r":128,"v":0.245},{"p":"E","s":"Pearson","r":256,"v":0.25},{"p":"E","s":"Pearson","r":512,"v":0.235},{"p":"E","s":"Pearson","r":1024,"v":0.235},{"p":"E","s":"Pearson","r":2048,"v":0.225},{"p":"E","s":"Pearson","r":4096,"v":0.22},{"p":"E","s":"Pearson","r":8192,"v":0.215},{"p":"E","s":"Pearson","r":16384,"v":0.215},{"p":"E","s":"Pearson","r":32768,"v":0.21},{"p":"E","s":"Pearson","r":65536,"v":0.21},{"p":"E","s":"Pearson","r":131072,"v":0.205},{"p":"E","s":"Pearson","r":220000,"v":0.207},
{"p":"E","s":"Cosine","r":1,"v":1},{"p":"E","s":"Cosine","r":2,"v":0.14},{"p":"E","s":"Cosine","r":4,"v":0.12},{"p":"E","s":"Cosine","r":8,"v":0.145},{"p":"E","s":"Cosine","r":16,"v":0.145},{"p":"E","s":"Cosine","r":32,"v":0.185},{"p":"E","s":"Cosine","r":64,"v":0.2},{"p":"E","s":"Cosine","r":128,"v":0.205},{"p":"E","s":"Cosine","r":256,"v":0.215},{"p":"E","s":"Cosine","r":512,"v":0.235},{"p":"E","s":"Cosine","r":1024,"v":0.24},{"p":"E","s":"Cosine","r":2048,"v":0.24},{"p":"E","s":"Cosine","r":4096,"v":0.24},{"p":"E","s":"Cosine","r":8192,"v":0.24},{"p":"E","s":"Cosine","r":16384,"v":0.24},{"p":"E","s":"Cosine","r":32768,"v":0.24},{"p":"E","s":"Cosine","r":65536,"v":0.235},{"p":"E","s":"Cosine","r":131072,"v":0.215},{"p":"E","s":"Cosine","r":220000,"v":0.207},

{"p":"F","s":"Degree","r":1,"v":0.245},{"p":"F","s":"Degree","r":2,"v":0.2},{"p":"F","s":"Degree","r":4,"v":0.19},{"p":"F","s":"Degree","r":8,"v":0.16},{"p":"F","s":"Degree","r":16,"v":0.205},{"p":"F","s":"Degree","r":32,"v":0.22},{"p":"F","s":"Degree","r":64,"v":0.275},{"p":"F","s":"Degree","r":128,"v":0.245},{"p":"F","s":"Degree","r":256,"v":0.255},{"p":"F","s":"Degree","r":512,"v":0.24},{"p":"F","s":"Degree","r":1024,"v":0.235},{"p":"F","s":"Degree","r":2048,"v":0.21},{"p":"F","s":"Degree","r":4096,"v":0.215},{"p":"F","s":"Degree","r":8192,"v":0.21},{"p":"F","s":"Degree","r":16384,"v":0.205},{"p":"F","s":"Degree","r":32768,"v":0.205},{"p":"F","s":"Degree","r":65536,"v":0.205},{"p":"F","s":"Degree","r":131072,"v":0.205},{"p":"F","s":"Degree","r":220000,"v":0.207},
{"p":"F","s":"O. Positive","r":1,"v":0.5},{"p":"F","s":"O. Positive","r":2,"v":0.28},{"p":"F","s":"O. Positive","r":4,"v":0.4},{"p":"F","s":"O. Positive","r":8,"v":0.38},{"p":"F","s":"O. Positive","r":16,"v":0.42},{"p":"F","s":"O. Positive","r":32,"v":0.43},{"p":"F","s":"O. Positive","r":64,"v":0.4},{"p":"F","s":"O. Positive","r":128,"v":0.41},{"p":"F","s":"O. Positive","r":256,"v":0.38},{"p":"F","s":"O. Positive","r":512,"v":0.33},{"p":"F","s":"O. Positive","r":1024,"v":0.285},{"p":"F","s":"O. Positive","r":2048,"v":0.26},{"p":"F","s":"O. Positive","r":4096,"v":0.235},{"p":"F","s":"O. Positive","r":8192,"v":0.23},{"p":"F","s":"O. Positive","r":16384,"v":0.215},{"p":"F","s":"O. Positive","r":32768,"v":0.205},{"p":"F","s":"O. Positive","r":65536,"v":0.205},{"p":"F","s":"O. Positive","r":131072,"v":0.205},{"p":"F","s":"O. Positive","r":220000,"v":0.207},
{"p":"F","s":"Gini","r":1,"v":1},{"p":"F","s":"Gini","r":2,"v":0.28},{"p":"F","s":"Gini","r":4,"v":0.22},{"p":"F","s":"Gini","r":8,"v":0.285},{"p":"F","s":"Gini","r":16,"v":0.285},{"p":"F","s":"Gini","r":32,"v":0.29},{"p":"F","s":"Gini","r":64,"v":0.285},{"p":"F","s":"Gini","r":128,"v":0.25},{"p":"F","s":"Gini","r":256,"v":0.22},{"p":"F","s":"Gini","r":512,"v":0.22},{"p":"F","s":"Gini","r":1024,"v":0.225},{"p":"F","s":"Gini","r":2048,"v":0.22},{"p":"F","s":"Gini","r":4096,"v":0.21},{"p":"F","s":"Gini","r":8192,"v":0.19},{"p":"F","s":"Gini","r":16384,"v":0.19},{"p":"F","s":"Gini","r":32768,"v":0.215},{"p":"F","s":"Gini","r":65536,"v":0.215},{"p":"F","s":"Gini","r":131072,"v":0.205},{"p":"F","s":"Gini","r":220000,"v":0.207},
{"p":"F","s":"Spearman","r":1,"v":1},{"p":"F","s":"Spearman","r":2,"v":0.5},{"p":"F","s":"Spearman","r":4,"v":0.36},{"p":"F","s":"Spearman","r":8,"v":0.29},{"p":"F","s":"Spearman","r":16,"v":0.29},{"p":"F","s":"Spearman","r":32,"v":0.27},{"p":"F","s":"Spearman","r":64,"v":0.28},{"p":"F","s":"Spearman","r":128,"v":0.245},{"p":"F","s":"Spearman","r":256,"v":0.25},{"p":"F","s":"Spearman","r":512,"v":0.235},{"p":"F","s":"Spearman","r":1024,"v":0.235},{"p":"F","s":"Spearman","r":2048,"v":0.26},{"p":"F","s":"Spearman","r":4096,"v":0.235},{"p":"F","s":"Spearman","r":8192,"v":0.225},{"p":"F","s":"Spearman","r":16384,"v":0.21},{"p":"F","s":"Spearman","r":32768,"v":0.205},{"p":"F","s":"Spearman","r":65536,"v":0.205},{"p":"F","s":"Spearman","r":131072,"v":0.205},{"p":"F","s":"Spearman","r":220000,"v":0.207},
{"p":"F","s":"Jaccard","r":1,"v":0.33},{"p":"F","s":"Jaccard","r":2,"v":0.4},{"p":"F","s":"Jaccard","r":4,"v":0.235},{"p":"F","s":"Jaccard","r":8,"v":0.315},{"p":"F","s":"Jaccard","r":16,"v":0.285},{"p":"F","s":"Jaccard","r":32,"v":0.28},{"p":"F","s":"Jaccard","r":64,"v":0.275},{"p":"F","s":"Jaccard","r":128,"v":0.16},{"p":"F","s":"Jaccard","r":256,"v":0.2},{"p":"F","s":"Jaccard","r":512,"v":0.22},{"p":"F","s":"Jaccard","r":1024,"v":0.235},{"p":"F","s":"Jaccard","r":2048,"v":0.265},{"p":"F","s":"Jaccard","r":4096,"v":0.255},{"p":"F","s":"Jaccard","r":8192,"v":0.245},{"p":"F","s":"Jaccard","r":16384,"v":0.22},{"p":"F","s":"Jaccard","r":32768,"v":0.22},{"p":"F","s":"Jaccard","r":65536,"v":0.21},{"p":"F","s":"Jaccard","r":131072,"v":0.205},{"p":"F","s":"Jaccard","r":220000,"v":0.207},
{"p":"F","s":"Dot","r":1,"v":0.2},{"p":"F","s":"Dot","r":2,"v":0.18},{"p":"F","s":"Dot","r":4,"v":0.19},{"p":"F","s":"Dot","r":8,"v":0.22},{"p":"F","s":"Dot","r":16,"v":0.29},{"p":"F","s":"Dot","r":32,"v":0.335},{"p":"F","s":"Dot","r":64,"v":0.355},{"p":"F","s":"Dot","r":128,"v":0.395},{"p":"F","s":"Dot","r":256,"v":0.335},{"p":"F","s":"Dot","r":512,"v":0.33},{"p":"F","s":"Dot","r":1024,"v":0.28},{"p":"F","s":"Dot","r":2048,"v":0.255},{"p":"F","s":"Dot","r":4096,"v":0.23},{"p":"F","s":"Dot","r":8192,"v":0.22},{"p":"F","s":"Dot","r":16384,"v":0.215},{"p":"F","s":"Dot","r":32768,"v":0.21},{"p":"F","s":"Dot","r":65536,"v":0.205},{"p":"F","s":"Dot","r":131072,"v":0.205},{"p":"F","s":"Dot","r":220000,"v":0.207},
{"p":"F","s":"Pearson","r":1,"v":1},{"p":"F","s":"Pearson","r":2,"v":0.25},{"p":"F","s":"Pearson","r":4,"v":0.36},{"p":"F","s":"Pearson","r":8,"v":0.35},{"p":"F","s":"Pearson","r":16,"v":0.3},{"p":"F","s":"Pearson","r":32,"v":0.225},{"p":"F","s":"Pearson","r":64,"v":0.18},{"p":"F","s":"Pearson","r":128,"v":0.195},{"p":"F","s":"Pearson","r":256,"v":0.225},{"p":"F","s":"Pearson","r":512,"v":0.235},{"p":"F","s":"Pearson","r":1024,"v":0.235},{"p":"F","s":"Pearson","r":2048,"v":0.225},{"p":"F","s":"Pearson","r":4096,"v":0.22},{"p":"F","s":"Pearson","r":8192,"v":0.215},{"p":"F","s":"Pearson","r":16384,"v":0.21},{"p":"F","s":"Pearson","r":32768,"v":0.205},{"p":"F","s":"Pearson","r":65536,"v":0.205},{"p":"F","s":"Pearson","r":131072,"v":0.205},{"p":"F","s":"Pearson","r":220000,"v":0.207}
],
"bars":[
{"p":"A","s":"Cosine","a":9.2},{"p":"A","s":"Pearson","a":9.2},{"p":"A","s":"Dot","a":8.85},{"p":"A","s":"Jaccard","a":8.5},{"p":"A","s":"Spearman","a":8.3},{"p":"A","s":"O. Negative","a":6.8},{"p":"A","s":"O. p-value","a":6.8},{"p":"A","s":"O. Positive","a":4.6},{"p":"A","s":"Gini","a":3.1},{"p":"A","s":"Degree","a":0.1},
{"p":"B","s":"O. p-value","a":8.9},{"p":"B","s":"Dot","a":8.9},{"p":"B","s":"O. Negative","a":8.5},{"p":"B","s":"O. Positive","a":1.7},{"p":"B","s":"Cosine","a":1.3},{"p":"B","s":"Pearson","a":1.2},{"p":"B","s":"Jaccard","a":1.0},{"p":"B","s":"Spearman","a":0.9},{"p":"B","s":"Degree","a":0.5},{"p":"B","s":"Gini","a":-0.4},
{"p":"C","s":"Cosine","a":9.3},{"p":"C","s":"Pearson","a":9.3},{"p":"C","s":"Jaccard","a":8.75},{"p":"C","s":"Spearman","a":8.5},{"p":"C","s":"Dot","a":8.3},{"p":"C","s":"O. Negative","a":6.6},{"p":"C","s":"O. p-value","a":6.6},{"p":"C","s":"Gini","a":2.9},{"p":"C","s":"Degree","a":0.1},
{"p":"D","s":"O. p-value","a":7.9},{"p":"D","s":"Dot","a":7.9},{"p":"D","s":"O. Negative","a":7.5},{"p":"D","s":"Cosine","a":1.3},{"p":"D","s":"Pearson","a":1.2},{"p":"D","s":"Jaccard","a":1.2},{"p":"D","s":"Spearman","a":0.8},{"p":"D","s":"Degree","a":0.4},{"p":"D","s":"Gini","a":-0.3},
{"p":"E","s":"O. Positive","a":4.7},{"p":"E","s":"Dot","a":3.7},{"p":"E","s":"Jaccard","a":1.4},{"p":"E","s":"Gini","a":1.2},{"p":"E","s":"Spearman","a":0.9},{"p":"E","s":"Cosine","a":0.6},{"p":"E","s":"Degree","a":0.25},{"p":"E","s":"O. p-value","a":0.15},{"p":"E","s":"Pearson","a":0.1},
{"p":"F","s":"O. Positive","a":2.0},{"p":"F","s":"Spearman","a":1.1},{"p":"F","s":"Dot","a":0.9},{"p":"F","s":"Pearson","a":0.9},{"p":"F","s":"Gini","a":0.9},{"p":"F","s":"Jaccard","a":0.8},{"p":"F","s":"Cosine","a":0.6},{"p":"F","s":"Degree","a":0.2},{"p":"F","s":"O. p-value","a":0.15}
]},
"spacing":4,
"resolve":{"scale":{"color":"shared"}},
"vconcat":[
{"spacing":3,"hconcat":[
{"title":{"text":"A","anchor":"start","fontSize":15,"fontWeight":"bold","offset":-8.7},"vconcat":[{"width":308,"height":205,
"title":{"text":"|ϵ| > 0.08","fontSize":12,"fontWeight":"bold","anchor":"middle","frame":"group","offset":-0.5},
"layer":[{"layer":[
{"data":{"name":"lines"},"transform":[{"filter":"datum.p == 'A'"}],"mark":{"type":"line","strokeWidth":1.6},
"encoding":{"x":{"field":"r","type":"quantitative","scale":{"type":"log","domain":[1,1000000]},"axis":{"title":"Recall","values":[1,10,100,1000,10000,100000,1000000],"labelExpr":"'10' + (datum.value < 5 ? '⁰' : datum.value < 50 ? '¹' : datum.value < 500 ? '²' : datum.value < 5000 ? '³' : datum.value < 50000 ? '⁴' : datum.value < 500000 ? '⁵' : '⁶')","labelFlush":false,"labelOverlap":false,"ticks":false,"labelPadding":2,"titlePadding":1,"domain":false}},
"y":{"field":"v","type":"quantitative","scale":{"domain":[0,1]},"axis":{"title":"Precision","values":[0,0.1,0.2,0.3,0.4,0.5,0.6,0.7,0.8,0.9,1],"format":".1f","labelFlush":false,"ticks":false,"labelPadding":2,"titlePadding":1,"domain":false}},
"color":{"field":"s","type":"nominal","scale":{"domain":["Dot","Pearson","Cosine","Spearman","Gini","O. Negative","O. Positive","O. p-value","Jaccard","Degree"],"range":["#c050b4","#6ecfe0","#3b72c0","#0b4d2c","#e3262d","#4b4ea6","#9266bd","#f28c28","#600a18","#8f8f8f"]},
"legend":{"orient":"none","legendX":270,"legendY":737,"title":null,"symbolType":"M-2,0H2","symbolSize":72,"symbolStrokeWidth":1.6,"labelFontSize":8.5,"labelColor":"#222","labelLimit":0,"rowPadding":0,"clipHeight":8,"labelOffset":7.25,"direction":"vertical","labelExpr":"datum.label == 'Dot' ? 'Dot Product (Dot)' : datum.label == 'Pearson' ? 'Pearson Correlation (Pearson)' : datum.label == 'Cosine' ? 'Cosine Correlation (Cosine)' : datum.label == 'Spearman' ? 'Spearman Correlation (Spearman)' : datum.label == 'Gini' ? 'Gini Correlation (Gini)' : datum.label == 'O. Negative' ? 'Overlap Negative (O. Negative)' : datum.label == 'O. Positive' ? 'Overlap Positive (O. Positive)' : datum.label == 'O. p-value' ? 'Overlap p-value (O. p-value)' : datum.label == 'Jaccard' ? 'Jaccard Coefficient (Jaccard)' : 'Degree Product - a baseline similarity measure (Degree)'"}}}},
{"data":{"values":[{}]},"mark":{"type":"rule","strokeDash":[6,4],"strokeWidth":1.5,"color":"black"},"encoding":{"y":{"datum":0.207}}},
{"data":{"values":[{}]},"mark":{"type":"text","baseline":"top","dy":2,"fontSize":9,"color":"#222"},"encoding":{"x":{"datum":16000},"y":{"datum":0.207},"text":{"value":"Background"}}}
]},
{"data":{"name":"bars"},"transform":[{"filter":"datum.p == 'A'"}],"mark":{"type":"bar"},
"encoding":{"y":{"field":"s","type":"nominal","sort":null,"scale":{"range":[2,101],"paddingInner":0.28,"paddingOuter":0.14},"axis":{"orient":"left","offset":-267,"title":null,"ticks":false,"tickSize":0,"domain":false,"labelPadding":4,"labelFontSize":9}},
"x":{"field":"a","type":"quantitative","scale":{"domain":[0,10],"range":[267,296],"nice":false},"axis":{"orient":"bottom","offset":-103,"values":[0,10],"title":["AUPRC","(above","backgrd.)"],"titleFontSize":8.5,"titleLineHeight":8.5,"titleAnchor":"start","titleAlign":"left","titlePadding":1,"labelFontSize":9,"labelPadding":0,"tickSize":3,"labelFlush":false,"domain":true}},
"color":{"field":"s","type":"nominal","scale":{"domain":["Dot","Pearson","Cosine","Spearman","Gini","O. Negative","O. Positive","O. p-value","Jaccard","Degree"],"range":["#c050b4","#6ecfe0","#3b72c0","#0b4d2c","#e3262d","#4b4ea6","#9266bd","#f28c28","#600a18","#8f8f8f"]},"legend":null}}}
],
"resolve":{"scale":{"x":"independent","y":"independent"},"axis":{"x":"independent","y":"independent"}}}]},

{"title":{"text":"B","anchor":"start","fontSize":15,"fontWeight":"bold","offset":-8.7},"vconcat":[{"width":308,"height":205,
"title":{"text":"|ϵ| > 0.2","fontSize":12,"fontWeight":"bold","anchor":"middle","frame":"group","offset":-0.5},
"layer":[{"layer":[
{"data":{"name":"lines"},"transform":[{"filter":"datum.p == 'B'"}],"mark":{"type":"line","strokeWidth":1.6},
"encoding":{"x":{"field":"r","type":"quantitative","scale":{"type":"log","domain":[1,1000000]},"axis":{"title":"Recall","values":[1,10,100,1000,10000,100000,1000000],"labelExpr":"'10' + (datum.value < 5 ? '⁰' : datum.value < 50 ? '¹' : datum.value < 500 ? '²' : datum.value < 5000 ? '³' : datum.value < 50000 ? '⁴' : datum.value < 500000 ? '⁵' : '⁶')","labelFlush":false,"labelOverlap":false,"ticks":false,"labelPadding":2,"titlePadding":1,"domain":false}},
"y":{"field":"v","type":"quantitative","scale":{"domain":[0,1]},"axis":{"title":"Precision","values":[0,0.1,0.2,0.3,0.4,0.5,0.6,0.7,0.8,0.9,1],"format":".1f","labelFlush":false,"ticks":false,"labelPadding":2,"titlePadding":1,"domain":false}},
"color":{"field":"s","type":"nominal","scale":{"domain":["Dot","Pearson","Cosine","Spearman","Gini","O. Negative","O. Positive","O. p-value","Jaccard","Degree"],"range":["#c050b4","#6ecfe0","#3b72c0","#0b4d2c","#e3262d","#4b4ea6","#9266bd","#f28c28","#600a18","#8f8f8f"]},
"legend":{"orient":"none","legendX":270,"legendY":737,"title":null,"symbolType":"M-2,0H2","symbolSize":72,"symbolStrokeWidth":1.6,"labelFontSize":8.5,"labelColor":"#222","labelLimit":0,"rowPadding":0,"clipHeight":8,"labelOffset":7.25,"direction":"vertical","labelExpr":"datum.label == 'Dot' ? 'Dot Product (Dot)' : datum.label == 'Pearson' ? 'Pearson Correlation (Pearson)' : datum.label == 'Cosine' ? 'Cosine Correlation (Cosine)' : datum.label == 'Spearman' ? 'Spearman Correlation (Spearman)' : datum.label == 'Gini' ? 'Gini Correlation (Gini)' : datum.label == 'O. Negative' ? 'Overlap Negative (O. Negative)' : datum.label == 'O. Positive' ? 'Overlap Positive (O. Positive)' : datum.label == 'O. p-value' ? 'Overlap p-value (O. p-value)' : datum.label == 'Jaccard' ? 'Jaccard Coefficient (Jaccard)' : 'Degree Product - a baseline similarity measure (Degree)'"}}}},
{"data":{"values":[{}]},"mark":{"type":"rule","strokeDash":[6,4],"strokeWidth":1.5,"color":"black"},"encoding":{"y":{"datum":0.207}}},
{"data":{"values":[{}]},"mark":{"type":"text","baseline":"top","dy":2,"fontSize":9,"color":"#222"},"encoding":{"x":{"datum":16000},"y":{"datum":0.207},"text":{"value":"Background"}}}
]},
{"data":{"name":"bars"},"transform":[{"filter":"datum.p == 'B'"}],"mark":{"type":"bar"},
"encoding":{"y":{"field":"s","type":"nominal","sort":null,"scale":{"range":[2,101],"paddingInner":0.28,"paddingOuter":0.14},"axis":{"orient":"left","offset":-271,"title":null,"ticks":false,"tickSize":0,"domain":false,"labelPadding":4,"labelFontSize":9}},
"x":{"field":"a","type":"quantitative","scale":{"domain":[-2,10],"range":[267,296],"nice":false},"axis":{"orient":"bottom","offset":-103,"values":[-2,10],"title":["AUPRC","(above","backgrd.)"],"titleFontSize":8.5,"titleLineHeight":8.5,"titleAnchor":"start","titleAlign":"left","titlePadding":1,"labelFontSize":9,"labelPadding":0,"tickSize":3,"labelFlush":false,"domain":true}},
"color":{"field":"s","type":"nominal","scale":{"domain":["Dot","Pearson","Cosine","Spearman","Gini","O. Negative","O. Positive","O. p-value","Jaccard","Degree"],"range":["#c050b4","#6ecfe0","#3b72c0","#0b4d2c","#e3262d","#4b4ea6","#9266bd","#f28c28","#600a18","#8f8f8f"]},"legend":null}}}
],
"resolve":{"scale":{"x":"independent","y":"independent"},"axis":{"x":"independent","y":"independent"}}}]}
]},

{"spacing":3,"hconcat":[
{"title":{"text":"C","anchor":"start","fontSize":15,"fontWeight":"bold","offset":-8.7},"vconcat":[{"width":308,"height":205,
"title":{"text":"ϵ < -0.08","fontSize":12,"fontWeight":"bold","anchor":"middle","frame":"group","offset":-0.5},
"layer":[{"layer":[
{"data":{"name":"lines"},"transform":[{"filter":"datum.p == 'C'"}],"mark":{"type":"line","strokeWidth":1.6},
"encoding":{"x":{"field":"r","type":"quantitative","scale":{"type":"log","domain":[1,1000000]},"axis":{"title":"Recall","values":[1,10,100,1000,10000,100000,1000000],"labelExpr":"'10' + (datum.value < 5 ? '⁰' : datum.value < 50 ? '¹' : datum.value < 500 ? '²' : datum.value < 5000 ? '³' : datum.value < 50000 ? '⁴' : datum.value < 500000 ? '⁵' : '⁶')","labelFlush":false,"labelOverlap":false,"ticks":false,"labelPadding":2,"titlePadding":1,"domain":false}},
"y":{"field":"v","type":"quantitative","scale":{"domain":[0,1]},"axis":{"title":"Precision","values":[0,0.1,0.2,0.3,0.4,0.5,0.6,0.7,0.8,0.9,1],"format":".1f","labelFlush":false,"ticks":false,"labelPadding":2,"titlePadding":1,"domain":false}},
"color":{"field":"s","type":"nominal","scale":{"domain":["Dot","Pearson","Cosine","Spearman","Gini","O. Negative","O. Positive","O. p-value","Jaccard","Degree"],"range":["#c050b4","#6ecfe0","#3b72c0","#0b4d2c","#e3262d","#4b4ea6","#9266bd","#f28c28","#600a18","#8f8f8f"]},
"legend":{"orient":"none","legendX":270,"legendY":737,"title":null,"symbolType":"M-2,0H2","symbolSize":72,"symbolStrokeWidth":1.6,"labelFontSize":8.5,"labelColor":"#222","labelLimit":0,"rowPadding":0,"clipHeight":8,"labelOffset":7.25,"direction":"vertical","labelExpr":"datum.label == 'Dot' ? 'Dot Product (Dot)' : datum.label == 'Pearson' ? 'Pearson Correlation (Pearson)' : datum.label == 'Cosine' ? 'Cosine Correlation (Cosine)' : datum.label == 'Spearman' ? 'Spearman Correlation (Spearman)' : datum.label == 'Gini' ? 'Gini Correlation (Gini)' : datum.label == 'O. Negative' ? 'Overlap Negative (O. Negative)' : datum.label == 'O. Positive' ? 'Overlap Positive (O. Positive)' : datum.label == 'O. p-value' ? 'Overlap p-value (O. p-value)' : datum.label == 'Jaccard' ? 'Jaccard Coefficient (Jaccard)' : 'Degree Product - a baseline similarity measure (Degree)'"}}}},
{"data":{"values":[{}]},"mark":{"type":"rule","strokeDash":[6,4],"strokeWidth":1.5,"color":"black"},"encoding":{"y":{"datum":0.207}}},
{"data":{"values":[{}]},"mark":{"type":"text","baseline":"top","dy":2,"fontSize":9,"color":"#222"},"encoding":{"x":{"datum":16000},"y":{"datum":0.207},"text":{"value":"Background"}}}
]},
{"data":{"name":"bars"},"transform":[{"filter":"datum.p == 'C'"}],"mark":{"type":"bar"},
"encoding":{"y":{"field":"s","type":"nominal","sort":null,"scale":{"range":[2,92],"paddingInner":0.28,"paddingOuter":0.14},"axis":{"orient":"left","offset":-267,"title":null,"ticks":false,"tickSize":0,"domain":false,"labelPadding":4,"labelFontSize":9}},
"x":{"field":"a","type":"quantitative","scale":{"domain":[0,10],"range":[267,296],"nice":false},"axis":{"orient":"bottom","offset":-112.5,"values":[0,10],"title":["AUPRC","(above","backgrd.)"],"titleFontSize":8.5,"titleLineHeight":8.5,"titleAnchor":"start","titleAlign":"left","titlePadding":1,"labelFontSize":9,"labelPadding":0,"tickSize":3,"labelFlush":false,"domain":true}},
"color":{"field":"s","type":"nominal","scale":{"domain":["Dot","Pearson","Cosine","Spearman","Gini","O. Negative","O. Positive","O. p-value","Jaccard","Degree"],"range":["#c050b4","#6ecfe0","#3b72c0","#0b4d2c","#e3262d","#4b4ea6","#9266bd","#f28c28","#600a18","#8f8f8f"]},"legend":null}}}
],
"resolve":{"scale":{"x":"independent","y":"independent"},"axis":{"x":"independent","y":"independent"}}}]},

{"title":{"text":"D","anchor":"start","fontSize":15,"fontWeight":"bold","offset":-8.7},"vconcat":[{"width":308,"height":205,
"title":{"text":"ϵ < -0.2","fontSize":12,"fontWeight":"bold","anchor":"middle","frame":"group","offset":-0.5},
"layer":[{"layer":[
{"data":{"name":"lines"},"transform":[{"filter":"datum.p == 'D'"}],"mark":{"type":"line","strokeWidth":1.6},
"encoding":{"x":{"field":"r","type":"quantitative","scale":{"type":"log","domain":[1,1000000]},"axis":{"title":"Recall","values":[1,10,100,1000,10000,100000,1000000],"labelExpr":"'10' + (datum.value < 5 ? '⁰' : datum.value < 50 ? '¹' : datum.value < 500 ? '²' : datum.value < 5000 ? '³' : datum.value < 50000 ? '⁴' : datum.value < 500000 ? '⁵' : '⁶')","labelFlush":false,"labelOverlap":false,"ticks":false,"labelPadding":2,"titlePadding":1,"domain":false}},
"y":{"field":"v","type":"quantitative","scale":{"domain":[0,1]},"axis":{"title":"Precision","values":[0,0.1,0.2,0.3,0.4,0.5,0.6,0.7,0.8,0.9,1],"format":".1f","labelFlush":false,"ticks":false,"labelPadding":2,"titlePadding":1,"domain":false}},
"color":{"field":"s","type":"nominal","scale":{"domain":["Dot","Pearson","Cosine","Spearman","Gini","O. Negative","O. Positive","O. p-value","Jaccard","Degree"],"range":["#c050b4","#6ecfe0","#3b72c0","#0b4d2c","#e3262d","#4b4ea6","#9266bd","#f28c28","#600a18","#8f8f8f"]},
"legend":{"orient":"none","legendX":270,"legendY":737,"title":null,"symbolType":"M-2,0H2","symbolSize":72,"symbolStrokeWidth":1.6,"labelFontSize":8.5,"labelColor":"#222","labelLimit":0,"rowPadding":0,"clipHeight":8,"labelOffset":7.25,"direction":"vertical","labelExpr":"datum.label == 'Dot' ? 'Dot Product (Dot)' : datum.label == 'Pearson' ? 'Pearson Correlation (Pearson)' : datum.label == 'Cosine' ? 'Cosine Correlation (Cosine)' : datum.label == 'Spearman' ? 'Spearman Correlation (Spearman)' : datum.label == 'Gini' ? 'Gini Correlation (Gini)' : datum.label == 'O. Negative' ? 'Overlap Negative (O. Negative)' : datum.label == 'O. Positive' ? 'Overlap Positive (O. Positive)' : datum.label == 'O. p-value' ? 'Overlap p-value (O. p-value)' : datum.label == 'Jaccard' ? 'Jaccard Coefficient (Jaccard)' : 'Degree Product - a baseline similarity measure (Degree)'"}}}},
{"data":{"values":[{}]},"mark":{"type":"rule","strokeDash":[6,4],"strokeWidth":1.5,"color":"black"},"encoding":{"y":{"datum":0.207}}},
{"data":{"values":[{}]},"mark":{"type":"text","baseline":"top","dy":2,"fontSize":9,"color":"#222"},"encoding":{"x":{"datum":16000},"y":{"datum":0.207},"text":{"value":"Background"}}}
]},
{"data":{"name":"bars"},"transform":[{"filter":"datum.p == 'D'"}],"mark":{"type":"bar"},
"encoding":{"y":{"field":"s","type":"nominal","sort":null,"scale":{"range":[2,92],"paddingInner":0.28,"paddingOuter":0.14},"axis":{"orient":"left","offset":-271,"title":null,"ticks":false,"tickSize":0,"domain":false,"labelPadding":4,"labelFontSize":9}},
"x":{"field":"a","type":"quantitative","scale":{"domain":[-2,10],"range":[267,296],"nice":false},"axis":{"orient":"bottom","offset":-112.5,"values":[-2,10],"title":["AUPRC","(above","backgrd.)"],"titleFontSize":8.5,"titleLineHeight":8.5,"titleAnchor":"start","titleAlign":"left","titlePadding":1,"labelFontSize":9,"labelPadding":0,"tickSize":3,"labelFlush":false,"domain":true}},
"color":{"field":"s","type":"nominal","scale":{"domain":["Dot","Pearson","Cosine","Spearman","Gini","O. Negative","O. Positive","O. p-value","Jaccard","Degree"],"range":["#c050b4","#6ecfe0","#3b72c0","#0b4d2c","#e3262d","#4b4ea6","#9266bd","#f28c28","#600a18","#8f8f8f"]},"legend":null}}}
],
"resolve":{"scale":{"x":"independent","y":"independent"},"axis":{"x":"independent","y":"independent"}}}]}
]},

{"spacing":3,"hconcat":[
{"title":{"text":"E","anchor":"start","fontSize":15,"fontWeight":"bold","offset":-8.7},"vconcat":[{"width":308,"height":205,
"title":{"text":"ϵ > 0.08","fontSize":12,"fontWeight":"bold","anchor":"middle","frame":"group","offset":-0.5},
"layer":[{"layer":[
{"data":{"name":"lines"},"transform":[{"filter":"datum.p == 'E'"}],"mark":{"type":"line","strokeWidth":1.6},
"encoding":{"x":{"field":"r","type":"quantitative","scale":{"type":"log","domain":[1,1000000]},"axis":{"title":"Recall","values":[1,10,100,1000,10000,100000,1000000],"labelExpr":"'10' + (datum.value < 5 ? '⁰' : datum.value < 50 ? '¹' : datum.value < 500 ? '²' : datum.value < 5000 ? '³' : datum.value < 50000 ? '⁴' : datum.value < 500000 ? '⁵' : '⁶')","labelFlush":false,"labelOverlap":false,"ticks":false,"labelPadding":2,"titlePadding":1,"domain":false}},
"y":{"field":"v","type":"quantitative","scale":{"domain":[0,1]},"axis":{"title":"Precision","values":[0,0.1,0.2,0.3,0.4,0.5,0.6,0.7,0.8,0.9,1],"format":".1f","labelFlush":false,"ticks":false,"labelPadding":2,"titlePadding":1,"domain":false}},
"color":{"field":"s","type":"nominal","scale":{"domain":["Dot","Pearson","Cosine","Spearman","Gini","O. Negative","O. Positive","O. p-value","Jaccard","Degree"],"range":["#c050b4","#6ecfe0","#3b72c0","#0b4d2c","#e3262d","#4b4ea6","#9266bd","#f28c28","#600a18","#8f8f8f"]},
"legend":{"orient":"none","legendX":270,"legendY":737,"title":null,"symbolType":"M-2,0H2","symbolSize":72,"symbolStrokeWidth":1.6,"labelFontSize":8.5,"labelColor":"#222","labelLimit":0,"rowPadding":0,"clipHeight":8,"labelOffset":7.25,"direction":"vertical","labelExpr":"datum.label == 'Dot' ? 'Dot Product (Dot)' : datum.label == 'Pearson' ? 'Pearson Correlation (Pearson)' : datum.label == 'Cosine' ? 'Cosine Correlation (Cosine)' : datum.label == 'Spearman' ? 'Spearman Correlation (Spearman)' : datum.label == 'Gini' ? 'Gini Correlation (Gini)' : datum.label == 'O. Negative' ? 'Overlap Negative (O. Negative)' : datum.label == 'O. Positive' ? 'Overlap Positive (O. Positive)' : datum.label == 'O. p-value' ? 'Overlap p-value (O. p-value)' : datum.label == 'Jaccard' ? 'Jaccard Coefficient (Jaccard)' : 'Degree Product - a baseline similarity measure (Degree)'"}}}},
{"data":{"values":[{}]},"mark":{"type":"rule","strokeDash":[6,4],"strokeWidth":1.5,"color":"black"},"encoding":{"y":{"datum":0.207}}},
{"data":{"values":[{}]},"mark":{"type":"text","baseline":"top","dy":2,"fontSize":9,"color":"#222"},"encoding":{"x":{"datum":16000},"y":{"datum":0.207},"text":{"value":"Background"}}}
]},
{"data":{"name":"bars"},"transform":[{"filter":"datum.p == 'E'"}],"mark":{"type":"bar"},
"encoding":{"y":{"field":"s","type":"nominal","sort":null,"scale":{"range":[2,92],"paddingInner":0.28,"paddingOuter":0.14},"axis":{"orient":"left","offset":-267,"title":null,"ticks":false,"tickSize":0,"domain":false,"labelPadding":4,"labelFontSize":9}},
"x":{"field":"a","type":"quantitative","scale":{"domain":[0,10],"range":[267,296],"nice":false},"axis":{"orient":"bottom","offset":-112.5,"values":[0,10],"title":["AUPRC","(above","backgrd.)"],"titleFontSize":8.5,"titleLineHeight":8.5,"titleAnchor":"start","titleAlign":"left","titlePadding":1,"labelFontSize":9,"labelPadding":0,"tickSize":3,"labelFlush":false,"domain":true}},
"color":{"field":"s","type":"nominal","scale":{"domain":["Dot","Pearson","Cosine","Spearman","Gini","O. Negative","O. Positive","O. p-value","Jaccard","Degree"],"range":["#c050b4","#6ecfe0","#3b72c0","#0b4d2c","#e3262d","#4b4ea6","#9266bd","#f28c28","#600a18","#8f8f8f"]},"legend":null}}}
],
"resolve":{"scale":{"x":"independent","y":"independent"},"axis":{"x":"independent","y":"independent"}}}]},

{"title":{"text":"F","anchor":"start","fontSize":15,"fontWeight":"bold","offset":-8.7},"vconcat":[{"width":308,"height":205,
"title":{"text":"ϵ > 0.2","fontSize":12,"fontWeight":"bold","anchor":"middle","frame":"group","offset":-0.5},
"layer":[{"layer":[
{"data":{"name":"lines"},"transform":[{"filter":"datum.p == 'F'"}],"mark":{"type":"line","strokeWidth":1.6},
"encoding":{"x":{"field":"r","type":"quantitative","scale":{"type":"log","domain":[1,1000000]},"axis":{"title":"Recall","values":[1,10,100,1000,10000,100000,1000000],"labelExpr":"'10' + (datum.value < 5 ? '⁰' : datum.value < 50 ? '¹' : datum.value < 500 ? '²' : datum.value < 5000 ? '³' : datum.value < 50000 ? '⁴' : datum.value < 500000 ? '⁵' : '⁶')","labelFlush":false,"labelOverlap":false,"ticks":false,"labelPadding":2,"titlePadding":1,"domain":false}},
"y":{"field":"v","type":"quantitative","scale":{"domain":[0,1]},"axis":{"title":"Precision","values":[0,0.1,0.2,0.3,0.4,0.5,0.6,0.7,0.8,0.9,1],"format":".1f","labelFlush":false,"ticks":false,"labelPadding":2,"titlePadding":1,"domain":false}},
"color":{"field":"s","type":"nominal","scale":{"domain":["Dot","Pearson","Cosine","Spearman","Gini","O. Negative","O. Positive","O. p-value","Jaccard","Degree"],"range":["#c050b4","#6ecfe0","#3b72c0","#0b4d2c","#e3262d","#4b4ea6","#9266bd","#f28c28","#600a18","#8f8f8f"]},
"legend":{"orient":"none","legendX":270,"legendY":737,"title":null,"symbolType":"M-2,0H2","symbolSize":72,"symbolStrokeWidth":1.6,"labelFontSize":8.5,"labelColor":"#222","labelLimit":0,"rowPadding":0,"clipHeight":8,"labelOffset":7.25,"direction":"vertical","labelExpr":"datum.label == 'Dot' ? 'Dot Product (Dot)' : datum.label == 'Pearson' ? 'Pearson Correlation (Pearson)' : datum.label == 'Cosine' ? 'Cosine Correlation (Cosine)' : datum.label == 'Spearman' ? 'Spearman Correlation (Spearman)' : datum.label == 'Gini' ? 'Gini Correlation (Gini)' : datum.label == 'O. Negative' ? 'Overlap Negative (O. Negative)' : datum.label == 'O. Positive' ? 'Overlap Positive (O. Positive)' : datum.label == 'O. p-value' ? 'Overlap p-value (O. p-value)' : datum.label == 'Jaccard' ? 'Jaccard Coefficient (Jaccard)' : 'Degree Product - a baseline similarity measure (Degree)'"}}}},
{"data":{"values":[{}]},"mark":{"type":"rule","strokeDash":[6,4],"strokeWidth":1.5,"color":"black"},"encoding":{"y":{"datum":0.207}}},
{"data":{"values":[{}]},"mark":{"type":"text","baseline":"top","dy":2,"fontSize":9,"color":"#222"},"encoding":{"x":{"datum":16000},"y":{"datum":0.207},"text":{"value":"Background"}}}
]},
{"data":{"name":"bars"},"transform":[{"filter":"datum.p == 'F'"}],"mark":{"type":"bar"},
"encoding":{"y":{"field":"s","type":"nominal","sort":null,"scale":{"range":[2,92],"paddingInner":0.28,"paddingOuter":0.14},"axis":{"orient":"left","offset":-267,"title":null,"ticks":false,"tickSize":0,"domain":false,"labelPadding":4,"labelFontSize":9}},
"x":{"field":"a","type":"quantitative","scale":{"domain":[0,10],"range":[267,296],"nice":false},"axis":{"orient":"bottom","offset":-112.5,"values":[0,10],"title":["AUPRC","(above","backgrd.)"],"titleFontSize":8.5,"titleLineHeight":8.5,"titleAnchor":"start","titleAlign":"left","titlePadding":1,"labelFontSize":9,"labelPadding":0,"tickSize":3,"labelFlush":false,"domain":true}},
"color":{"field":"s","type":"nominal","scale":{"domain":["Dot","Pearson","Cosine","Spearman","Gini","O. Negative","O. Positive","O. p-value","Jaccard","Degree"],"range":["#c050b4","#6ecfe0","#3b72c0","#0b4d2c","#e3262d","#4b4ea6","#9266bd","#f28c28","#600a18","#8f8f8f"]},"legend":null}}}
],
"resolve":{"scale":{"x":"independent","y":"independent"},"axis":{"x":"independent","y":"independent"}}}]}
]}
]
}
